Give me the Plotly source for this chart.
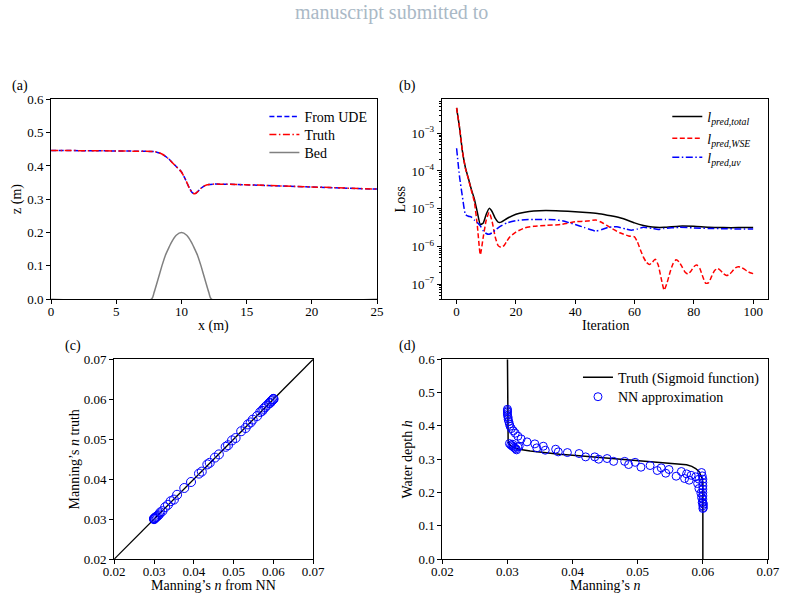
import plotly.graph_objects as go

# ---------------- data ----------------
# (a) water surface and bed profile
a_x = [0, 4, 7, 8, 8.5, 9, 9.5, 10, 10.3, 10.6, 10.8, 10.95, 11.1, 11.3, 11.5, 11.8, 12.1, 12.5, 13.5, 15, 20, 25]
a_wse = [0.4465, 0.4455, 0.444, 0.4425, 0.436, 0.422, 0.402, 0.382, 0.360, 0.334, 0.321, 0.3168, 0.318, 0.325,
         0.333, 0.341, 0.344, 0.3455, 0.345, 0.3435, 0.337, 0.3305]
bed_x = [0, 7.7, 7.9, 8.13, 8.5, 8.75, 9.0, 9.22, 9.6, 10.0, 10.4, 10.78, 11.0, 11.25, 11.5, 11.87, 12.1, 12.3, 25]
bed_z = [0, 0, 0.02, 0.05, 0.10, 0.13, 0.152, 0.17, 0.192, 0.2, 0.192, 0.17, 0.152, 0.13, 0.10, 0.05, 0.02, 0, 0]

# (b) loss histories
it_total = [0, 1, 2, 3, 4, 5, 6, 7, 8, 9, 10, 11, 12, 13, 14, 15, 17, 20, 23, 26, 30, 35, 40, 45, 48, 52, 56,
            60, 63, 66, 70, 75, 80, 85, 90, 95, 100]
loss_total = [4.7e-3, 1.4e-3, 3.2e-4, 1.2e-4, 6.3e-5, 3.2e-5, 1.8e-5, 8.0e-6, 3.8e-6, 4.2e-6, 7.1e-6, 1.02e-5,
              8.3e-6, 5.6e-6, 4.4e-6, 4.4e-6, 5.5e-6, 7.1e-6, 8.1e-6, 8.7e-6, 8.9e-6, 8.7e-6, 8.3e-6, 7.8e-6,
              7.4e-6, 6.5e-6, 5.5e-6, 4.2e-6, 3.6e-6, 3.25e-6, 3.2e-6, 3.45e-6, 3.4e-6, 3.2e-6, 3.15e-6,
              3.15e-6, 3.15e-6]
it_wse = [0, 1, 2, 3, 4, 5, 6, 7, 8, 9, 10, 11, 12, 13, 14, 15, 16, 17, 18, 20, 23, 26, 30, 35, 40, 44, 47, 49,
          52, 55, 58, 60, 61, 62, 63, 64, 65, 66, 67, 68, 69, 70, 71, 72, 73, 74, 75, 76, 77, 78, 79, 80, 81, 82,
          83, 84, 85, 86, 87, 88, 89, 90, 91, 92, 93, 94, 95, 96, 97, 98, 99, 100]
loss_wse = [4.7e-3, 1.4e-3, 3.2e-4, 1.15e-4, 6.0e-5, 3.0e-5, 1.5e-5, 3.5e-6, 6.0e-7, 1.8e-6, 5.0e-6, 8.0e-6,
            4.5e-6, 1.8e-6, 1.05e-6, 9.5e-7, 1.05e-6, 1.4e-6, 1.8e-6, 2.4e-6, 3.1e-6, 3.4e-6, 3.6e-6, 3.8e-6,
            4.5e-6, 4.7e-6, 5.0e-6, 4.3e-6, 3.1e-6, 2.3e-6, 1.9e-6, 1.8e-6, 1.3e-6, 8.0e-7, 5.2e-7, 3.8e-7,
            3.3e-7, 3.8e-7, 4.6e-7, 3.2e-7, 1.4e-7, 6.9e-8, 1.1e-7, 2.1e-7, 3.5e-7, 4.4e-7, 3.9e-7, 2.9e-7,
            2.1e-7, 1.85e-7, 2.2e-7, 2.9e-7, 3.2e-7, 2.6e-7, 1.6e-7, 1.05e-7, 1.1e-7, 1.6e-7, 2.3e-7, 2.6e-7,
            2.3e-7, 1.9e-7, 1.7e-7, 1.8e-7, 2.2e-7, 2.7e-7, 2.9e-7, 2.8e-7, 2.5e-7, 2.2e-7, 2.0e-7, 1.9e-7]
it_uv = [0, 1, 2, 3, 4, 5, 6, 7, 8, 9, 10, 11, 12, 13, 14, 15, 17, 20, 23, 26, 30, 33, 36, 40, 43, 45, 47, 49,
         51, 54, 57, 59, 61, 63, 66, 68, 70, 75, 80, 85, 90, 95, 100]
loss_uv = [4.0e-4, 7.0e-5, 2.0e-5, 7.0e-6, 6.3e-6, 6.0e-6, 5.0e-6, 4.3e-6, 3.5e-6, 2.6e-6, 2.2e-6, 2.1e-6,
           2.3e-6, 2.7e-6, 3.1e-6, 3.5e-6, 4.2e-6, 4.8e-6, 5.1e-6, 5.2e-6, 5.2e-6, 5.1e-6, 4.7e-6, 3.8e-6,
           3.2e-6, 2.8e-6, 2.55e-6, 2.8e-6, 3.2e-6, 3.3e-6, 2.9e-6, 2.7e-6, 2.9e-6, 3.2e-6, 3.0e-6, 2.8e-6,
           3.0e-6, 3.2e-6, 3.1e-6, 3.0e-6, 2.95e-6, 2.9e-6, 2.9e-6]

# (c) Manning's n: NN vs truth
c_nn = [0.0300, 0.0300, 0.0301, 0.0302, 0.0303, 0.0305, 0.0307, 0.0310, 0.0313, 0.0316, 0.0321, 0.0328, 0.0335,
        0.0342, 0.0350, 0.0358, 0.0376, 0.0393, 0.0413, 0.0420, 0.0434, 0.0440, 0.0453, 0.0463, 0.0480, 0.0486,
        0.0496, 0.0505, 0.0519, 0.0530, 0.0536, 0.0543, 0.0548, 0.0559, 0.0567, 0.0572, 0.0575, 0.0579, 0.0583,
        0.0589, 0.0592, 0.0594, 0.0597, 0.0599, 0.0600, 0.0600]
c_truth = [0.0300, 0.0301, 0.0302, 0.0302, 0.0304, 0.0305, 0.0307, 0.0309, 0.0312, 0.0317, 0.0320, 0.0330,
           0.0336, 0.0345, 0.0349, 0.0361, 0.0378, 0.0393, 0.0414, 0.0419, 0.0437, 0.0441, 0.0454, 0.0462,
           0.0481, 0.0485, 0.0497, 0.0503, 0.0520, 0.0528, 0.0537, 0.0542, 0.0549, 0.0558, 0.0568, 0.0571,
           0.0576, 0.0580, 0.0584, 0.0590, 0.0591, 0.0595, 0.0597, 0.0600, 0.0600, 0.0601]
diag = [0.02, 0.07]

# (d) Manning's n vs water depth
d_truth_n = [0.0300, 0.0300, 0.0301, 0.0303, 0.0306, 0.0311, 0.0320, 0.0335, 0.0355, 0.0380, 0.0410, 0.0440,
             0.0470, 0.0500, 0.0530, 0.0550, 0.0565, 0.0575, 0.0583, 0.0589, 0.0594, 0.0597, 0.0599, 0.0600,
             0.0600]
d_truth_h = [0.600, 0.370, 0.355, 0.345, 0.339, 0.334, 0.329, 0.3245, 0.320, 0.315, 0.3105, 0.3055, 0.3005,
             0.2955, 0.291, 0.2885, 0.2865, 0.2835, 0.2785, 0.272, 0.263, 0.253, 0.242, 0.230, 0.000]
d_nn_n = [0.0300, 0.0300, 0.0300, 0.0300, 0.0300, 0.0301, 0.0301, 0.0302, 0.0303, 0.0304, 0.0306, 0.0309,
          0.0312, 0.0316, 0.0321, 0.0330, 0.0342, 0.0355, 0.0374, 0.0392, 0.0410, 0.0434, 0.0453, 0.0480,
          0.0496, 0.0519, 0.0536, 0.0548, 0.0567, 0.0575, 0.0582, 0.0589, 0.0594,
          0.0303, 0.0305, 0.0307, 0.0309, 0.0311, 0.0313, 0.0314, 0.0316, 0.0308,
          0.0318, 0.0345, 0.0358, 0.0378, 0.0420, 0.0440, 0.0463, 0.0486, 0.0505, 0.0530, 0.0543, 0.0559,
          0.0572, 0.0579, 0.0592, 0.0594, 0.0597, 0.0598, 0.0599,
          0.0598, 0.0599, 0.0600, 0.0600, 0.0600, 0.0600, 0.0600, 0.0600, 0.0600, 0.0600, 0.0600, 0.0600,
          0.0601, 0.0601]
d_nn_h = [0.450, 0.446, 0.442, 0.437, 0.432, 0.426, 0.420, 0.413, 0.406, 0.399, 0.392, 0.385,
          0.378, 0.369, 0.361, 0.352, 0.346, 0.339, 0.330, 0.320, 0.317, 0.307, 0.302, 0.2935,
          0.2906, 0.281, 0.274, 0.269, 0.263, 0.256, 0.2517, 0.247, 0.240,
          0.347, 0.343, 0.340, 0.337, 0.334, 0.331, 0.328, 0.337, 0.345,
          0.339, 0.334, 0.327, 0.322, 0.307, 0.300, 0.2935, 0.284, 0.276, 0.266, 0.258, 0.249,
          0.242, 0.237, 0.227, 0.212, 0.198, 0.185, 0.170,
          0.260, 0.250, 0.240, 0.230, 0.220, 0.210, 0.200, 0.190, 0.180, 0.170, 0.160, 0.152,
          0.155, 0.165]

log_ticks = [1e-3, 1e-4, 1e-5, 1e-6, 1e-7]
log_tick_text = ["10<sup>−3</sup>", "10<sup>−4</sup>", "10<sup>−5</sup>", "10<sup>−6</sup>", "10<sup>−7</sup>"]

# ---------------- figure ----------------
# the page body keeps the browser's default 8px margin, so the figure is 16px smaller
OFF = 8
W, H = 805 - 2 * OFF, 616 - 2 * OFF
FONT = "Liberation Serif"


def px_x(p):
    return (p - OFF) / W


def px_y(p):
    return 1 - (p - OFF) / H


fig = go.Figure()

# (a)
fig.add_trace(go.Scatter(x=a_x, y=a_wse, mode="lines", name="From UDE", xaxis="x", yaxis="y", legend="legend",
                         line=dict(color="blue", width=1.5, dash="5px,2.5px", shape="spline", smoothing=0.6)))
fig.add_trace(go.Scatter(x=a_x, y=a_wse, mode="lines", name="Truth", xaxis="x", yaxis="y", legend="legend2",
                         line=dict(color="red", width=1.5, dash="7px,2.5px,1.5px,2.5px", shape="spline",
                                   smoothing=0.6)))
fig.add_trace(go.Scatter(x=bed_x, y=bed_z, mode="lines", name="Bed", xaxis="x", yaxis="y", legend="legend3",
                         line=dict(color="gray", width=1.5, shape="spline", smoothing=0.6)))

# (b)
fig.add_trace(go.Scatter(x=it_total, y=loss_total, mode="lines", xaxis="x2", yaxis="y2", legend="legend4",
                         name="<i>l</i><sub><i>pred,total</i></sub>",
                         line=dict(color="black", width=1.5, shape="spline", smoothing=0.5)))
fig.add_trace(go.Scatter(x=it_wse, y=loss_wse, mode="lines", xaxis="x2", yaxis="y2", legend="legend5",
                         name="<i>l</i><sub><i>pred,WSE</i></sub>",
                         line=dict(color="red", width=1.5, dash="5px,2.5px", shape="spline", smoothing=0.5)))
fig.add_trace(go.Scatter(x=it_uv, y=loss_uv, mode="lines", xaxis="x2", yaxis="y2", legend="legend6",
                         name="<i>l</i><sub><i>pred,uv</i></sub>",
                         line=dict(color="blue", width=1.5, dash="7px,2.5px,1.5px,2.5px", shape="spline",
                                   smoothing=0.5)))

# (c)
fig.add_trace(go.Scatter(x=diag, y=diag, mode="lines", xaxis="x3", yaxis="y3", showlegend=False,
                         line=dict(color="black", width=1.3)))
fig.add_trace(go.Scatter(x=c_nn, y=c_truth, mode="markers", xaxis="x3", yaxis="y3", showlegend=False,
                         marker=dict(symbol="circle-open", size=9, color="blue", line=dict(width=1, color="blue"))))

# (d)
fig.add_trace(go.Scatter(x=d_truth_n, y=d_truth_h, mode="lines", xaxis="x4", yaxis="y4", legend="legend7",
                         name="Truth (Sigmoid function)", line=dict(color="black", width=1.5)))
fig.add_trace(go.Scatter(x=d_nn_n, y=d_nn_h, mode="markers", xaxis="x4", yaxis="y4", legend="legend8",
                         name="NN approximation",
                         marker=dict(symbol="circle-open", size=8, color="blue", line=dict(width=1, color="blue"))))

axis_common = dict(showline=True, linecolor="black", linewidth=1, mirror=True, ticks="outside", ticklen=4,
                   tickwidth=1, tickcolor="black", showgrid=False, zeroline=False,
                   tickfont=dict(family=FONT, size=13, color="black"))
xfix = dict(ticklabelstandoff=-4)


def leg(x_text, y_line):
    return dict(x=px_x(x_text - 41), y=px_y(y_line - 15), xanchor="left", yanchor="top",
                bgcolor="rgba(0,0,0,0)", font=dict(family=FONT, size=14, color="black"), itemwidth=30)


fig.update_layout(
    width=W, height=H, margin=dict(l=0, r=0, t=0, b=0),
    paper_bgcolor="white", plot_bgcolor="white",
    font=dict(family=FONT, size=14, color="black"),
    xaxis=dict(domain=[px_x(49.3), px_x(385)], range=[0, 25], tickvals=[0, 5, 10, 15, 20, 25], anchor="y",
               **axis_common, **xfix),
    yaxis=dict(domain=[px_y(307.7), px_y(102.7)], range=[0, 0.6], dtick=0.1, tickformat=".1f", anchor="x",
               **axis_common),
    xaxis2=dict(domain=[px_x(451.7), px_x(787.7)], range=[-5, 105], tickvals=[0, 20, 40, 60, 80, 100],
                anchor="y2", **axis_common, **xfix),
    yaxis2=dict(domain=[px_y(307.7), px_y(102.7)], type="log", range=[-7.4, -2.1], tickvals=log_ticks,
                ticktext=log_tick_text, anchor="x2",
                minor=dict(tickvals=[k * 10.0 ** d for d in range(-8, -2) for k in range(2, 10)],
                           ticks="outside", ticklen=2, tickcolor="black", tickwidth=0.8),
                **axis_common),
    xaxis3=dict(domain=[px_x(114.3), px_x(319.3)], range=[0.02, 0.07], dtick=0.01, tickformat=".2f",
                anchor="y3", **axis_common, **xfix),
    yaxis3=dict(domain=[px_y(574.3), px_y(369.3)], range=[0.02, 0.07], dtick=0.01, tickformat=".2f",
                anchor="x3", **axis_common),
    xaxis4=dict(domain=[px_x(452.3), px_x(787.7)], range=[0.02, 0.07], dtick=0.01, tickformat=".2f",
                anchor="y4", **axis_common, **xfix),
    yaxis4=dict(domain=[px_y(574.3), px_y(369.3)], range=[0, 0.6], dtick=0.1, tickformat=".1f",
                anchor="x4", **axis_common),
    legend=leg(310, 119.3),
    legend2=leg(310, 137.7),
    legend3=leg(310, 156.3),
    legend4=leg(725, 119.3),
    legend5=leg(725, 141.7),
    legend6=leg(725, 161),
    legend7=leg(633, 386.7),
    legend8=leg(633, 406.7),
)

ann = []


def label(text, x, y, angle=0, size=14, color="black"):
    ann.append(dict(text=text, x=px_x(x), y=px_y(y), xref="paper", yref="paper", showarrow=False,
                    xanchor="center", yanchor="middle", textangle=angle,
                    font=dict(family=FONT, size=size, color=color)))


label("manuscript submitted to", 400, 13.5, size=20, color="#aab9c6")
label("(a)", 17, 89)
label("(b)", 416, 89)
label("(c)", 72, 356)
label("(d)", 416, 356)
label("x (m)", 217, 335)
label("z (m)", 14, 205, angle=-90)
label("Iteration", 620, 335)
label("Loss", 409, 205, angle=-90)
label("Manning’s <i>n</i> from NN", 217, 601)
label("Manning’s <i>n</i> truth", 73, 472, angle=-90)
label("Manning’s <i>n</i>", 620, 601)
label("Water depth <i>h</i>", 416, 472, angle=-90)
fig.update_layout(annotations=ann)

fig.write_html("out.html")
